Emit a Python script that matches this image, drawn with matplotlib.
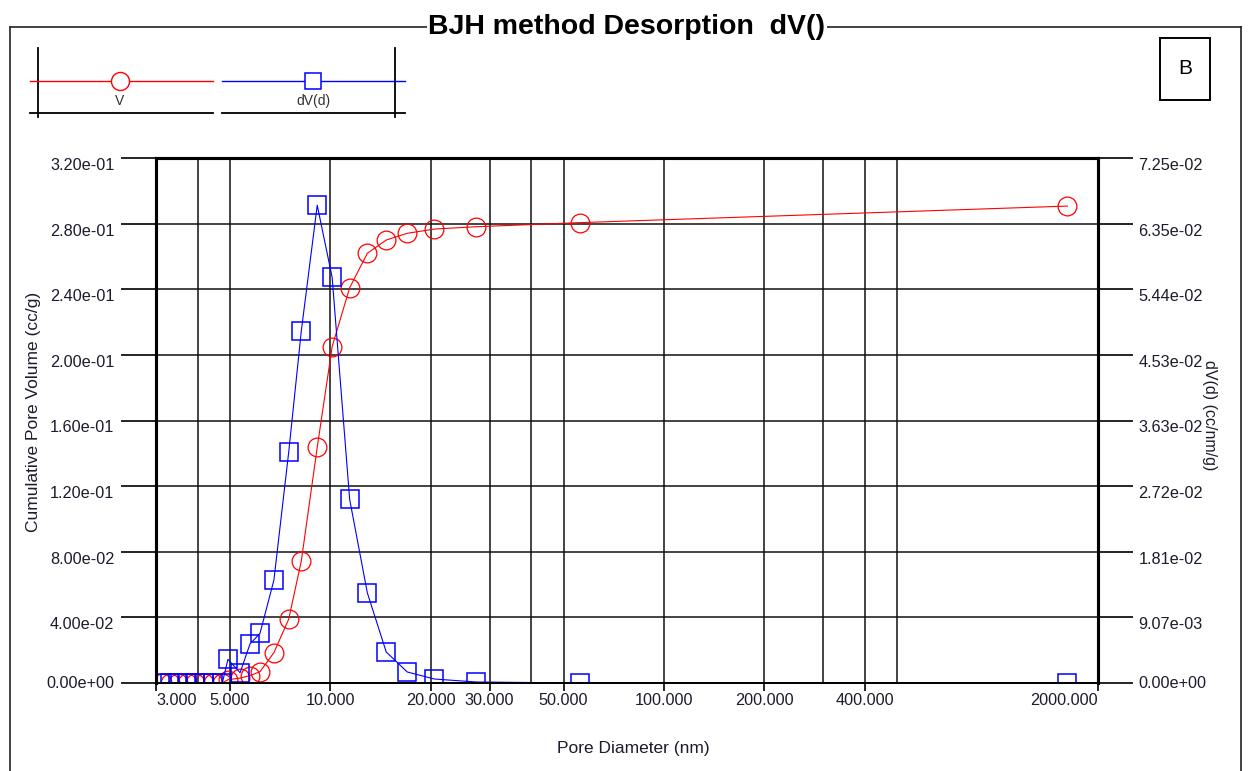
import numpy as np
import matplotlib
matplotlib.use("Agg")
import matplotlib.pyplot as plt
from matplotlib.lines import Line2D
from matplotlib.patches import Rectangle
from matplotlib.ticker import FixedLocator, NullFormatter, FormatStrFormatter

plt.rcParams['font.family'] = ['Liberation Sans', 'DejaVu Sans']

# BJH desorption: pore diameter (nm), cumulative volume (cc/g), dV(d) (cc/nm/g)
diameter = [3.125, 3.30, 3.50, 3.71, 3.93, 4.18, 4.45, 4.74, 4.93, 5.36, 5.74,
            6.15, 6.77, 7.50, 8.18, 9.13, 10.12, 11.42, 12.9, 14.7, 17.0,
            20.5, 27.3, 55.9, 1620.0]
cum_volume = [0, 0, 0, 0, 0, 0, 0, 0, 0.002, 0.003, 0.0045,
              0.0069, 0.0185, 0.0390, 0.0744, 0.1437, 0.2050, 0.2409, 0.2619,
              0.2700, 0.2741, 0.2767, 0.2781, 0.2806, 0.2907]
dv_d = [0, 0, 0, 0, 0, 0, 0, 0, 0.00327, 0.00142, 0.00539,
        0.00686, 0.01422, 0.03194, 0.04865, 0.06601, 0.05603, 0.02537, 0.01247,
        0.00428, 0.00152, 0.00055, 0.00014, 0.0, 0.0]

x_ticks = [3, 5, 10, 20, 30, 50, 100, 200, 400, 2000]
x_tick_labels = ['3.000', '5.000', '10.000', '20.000', '30.000', '50.000',
                 '100.000', '200.000', '400.000', '2000.000']
x_extra_grid = [4, 40, 300, 500]
v_max = 0.32
dv_max = 0.07253

W, H = 1251, 771
fig = plt.figure(figsize=(W / 100, H / 100), dpi=100)


def fx(px):
    return px / W


def fy(py):
    return 1 - py / H


ax = fig.add_axes([fx(156), fy(683), (1098 - 156) / W, (683 - 158) / H])
ax2 = ax.twinx()

txt_col = '#1c1c2c'
tick_fs = 11.7

# cumulative volume (left) and derivative (right)
ax2.plot(diameter, dv_d, color='#0000ff', lw=0.8, marker='s', ms=13,
         mfc='none', mec='#0000ff', mew=1.1)
ax.plot(diameter, cum_volume, color='#ff0000', lw=0.8, marker='o', ms=13.5,
        mfc='none', mec='#ff0000', mew=0.9)

ax.set_xscale('log')
ax.set_xlim(3, 2000)
ax.set_ylim(0, v_max)
ax2.set_ylim(0, dv_max)

ax.xaxis.set_major_locator(FixedLocator(x_ticks))
ax.set_xticklabels(x_tick_labels)
ax.xaxis.set_minor_locator(FixedLocator(x_extra_grid))
ax.xaxis.set_minor_formatter(NullFormatter())
ax.tick_params(axis='x', which='major', length=6, width=1.2, direction='out',
               pad=1.5, labelsize=tick_fs, labelcolor=txt_col)
ax.tick_params(axis='x', which='minor', length=0)

ax.set_yticks(np.linspace(0, v_max, 9))
ax.yaxis.set_major_formatter(FormatStrFormatter('%.2e'))
ax.tick_params(axis='y', length=25, width=1.2, direction='out', pad=5,
               labelsize=tick_fs, labelcolor=txt_col)
ax2.set_yticks(np.linspace(0, dv_max, 9))
ax2.yaxis.set_major_formatter(FormatStrFormatter('%.2e'))
ax2.tick_params(axis='y', length=25, width=1.2, direction='out', pad=4,
                labelsize=tick_fs, labelcolor=txt_col)

ax.grid(True, which='both', axis='x', color='#111111', lw=1.1)
ax.grid(True, which='major', axis='y', color='#111111', lw=1.1)

for a in (ax, ax2):
    for side in ('left', 'right', 'top'):
        a.spines[side].set_linewidth(2.2)
        a.spines[side].set_color('black')
    a.spines['bottom'].set_linewidth(1.3)

fig.canvas.draw()
labels = ax.get_xticklabels()
labels[0].set_ha('left')
labels[-1].set_ha('right')
for a in (ax, ax2):
    ticks = a.yaxis.get_major_ticks()
    for i, t in enumerate(ticks):
        lab = t.label2 if a is ax2 else t.label1
        lab.set_va('center' if i == 0 else 'top')

# outer frame broken by the title
frame = dict(color='#222222', lw=1.2, transform=fig.transFigure)
fig.add_artist(Line2D([fx(10), fx(10)], [fy(27), 0], **frame))
fig.add_artist(Line2D([fx(1241), fx(1241)], [fy(27), 0], **frame))
fig.add_artist(Line2D([fx(10), fx(1241)], [fy(27), fy(27)], **frame))
fig.text(fx(627), fy(27), 'BJH method Desorption  dV()', ha='center',
         va='center', fontsize=20.5, fontweight='bold', color='black',
         bbox=dict(facecolor='white', edgecolor='none', pad=1.5))

# legend panel
leg = dict(color='black', lw=1.3, transform=fig.transFigure)
fig.add_artist(Line2D([fx(38), fx(38)], [fy(48), fy(117)], **leg))
fig.add_artist(Line2D([fx(395), fx(395)], [fy(48), fy(117)], **leg))
fig.add_artist(Line2D([fx(30), fx(213)], [fy(113), fy(113)], **leg))
fig.add_artist(Line2D([fx(222), fx(405)], [fy(113), fy(113)], **leg))
fig.add_artist(Line2D([fx(30), fx(213)], [fy(81), fy(81)], color='#ff0000',
                      lw=1.0, transform=fig.transFigure))
fig.add_artist(Line2D([fx(120)], [fy(81)], color='#ff0000', marker='o',
                      ms=13, mfc='white', mew=1.0, transform=fig.transFigure))
fig.add_artist(Line2D([fx(222), fx(405)], [fy(81), fy(81)], color='#0000ff',
                      lw=1.0, transform=fig.transFigure))
fig.add_artist(Line2D([fx(313)], [fy(81)], color='#0000ff', marker='s',
                      ms=12, mfc='white', mew=1.1, transform=fig.transFigure))
fig.text(fx(120), fy(101), 'V', ha='center', va='center', fontsize=10,
         color='#333333')
fig.text(fx(313), fy(101), 'dV(d)', ha='center', va='center', fontsize=10,
         color='#333333')

# panel letter
fig.add_artist(Rectangle((fx(1160), fy(100)), fx(50), 62 / H,
                         transform=fig.transFigure, facecolor='white',
                         edgecolor='black', lw=1.4))
fig.text(fx(1185), fy(69), 'B', ha='center', va='center', fontsize=15,
         color='black')

fig.text(fx(633), fy(748), 'Pore Diameter (nm)', ha='center', va='center',
         fontsize=12.5, color=txt_col)
fig.text(fx(34), fy(412), 'Cumulative Pore Volume (cc/g)', ha='center',
         va='center', rotation=90, fontsize=12.5, color=txt_col)
fig.text(fx(1209), fy(415), 'dV(d) (cc/nm/g)', ha='center', va='center',
         rotation=270, fontsize=11.5, color=txt_col)

fig.savefig('out.png', dpi=100, facecolor='white')
